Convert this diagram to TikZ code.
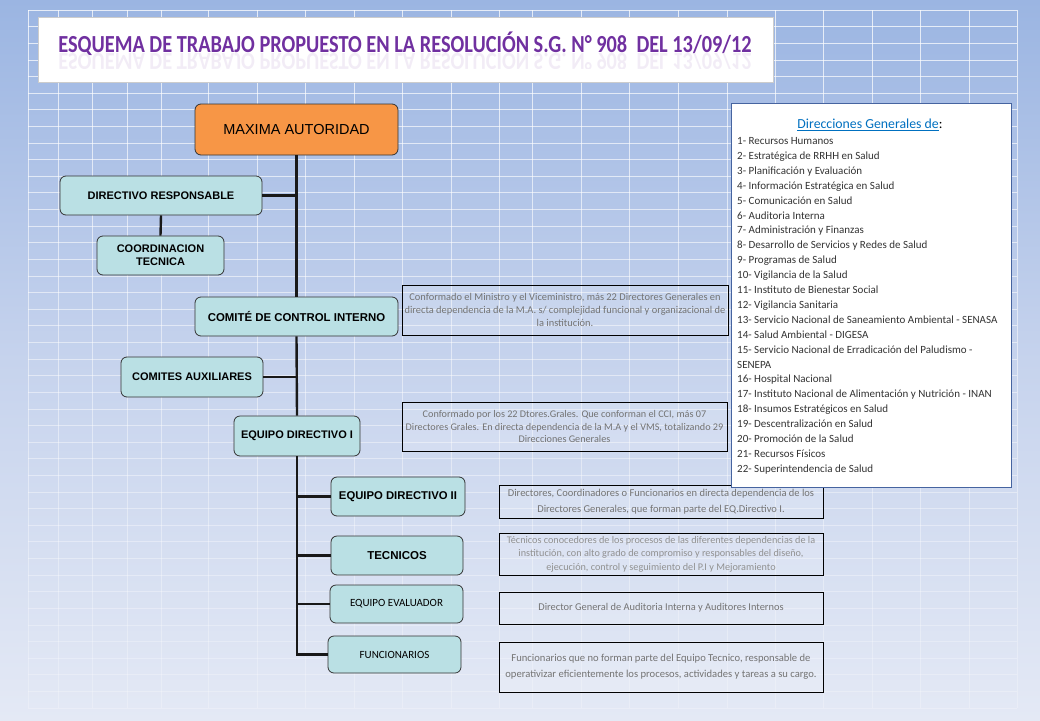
\documentclass[tikz,border=0pt]{standalone}
\usepackage{fontspec}
\setmainfont{Carlito}
\newfontfamily\arialf{Liberation Sans}
\usetikzlibrary{calc}
\definecolor{bgtop}{RGB}{155,181,226}
\definecolor{bgmid}{RGB}{198,211,237}
\definecolor{bgbot}{RGB}{228,233,245}
\definecolor{teal1}{RGB}{186,224,228}
\definecolor{orng}{RGB}{247,150,70}
\definecolor{ttl}{RGB}{112,48,160}
\definecolor{dgray}{RGB}{115,115,115}
\definecolor{lgray}{RGB}{145,145,145}
\definecolor{pblue}{RGB}{0,112,192}
\definecolor{pborder}{RGB}{70,100,160}
\newcommand\bx[7]{%
  \pgfmathsetmacro\bxw{#4-#2}\pgfmathsetmacro\bxh{#5-#3}%
  \node[#6,minimum width=\bxw pt,minimum height=\bxh pt] (#1) at ({(#2+#4)/2},{(#3+#5)/2}) {#7};}
\newcommand\ttltext{ESQUEMA DE TRABAJO PROPUESTO EN LA RESOLUCIÓN S.G. N°~908\ \ DEL 13/09/12}
\tikzset{
  gridl/.style={white,line width=0.7pt},
  orgbox/.style={draw=black!80,line width=0.8pt,rounded corners=6pt,fill=teal1,inner sep=0pt,align=center,
    font=\arialf\bfseries\fontsize{11}{13}\selectfont},
  mabox/.style={orgbox,fill=orng,font=\arialf\fontsize{14.5}{17}\selectfont},
  calbox/.style={orgbox,font=\fontsize{11}{13}\selectfont},
  descbox/.style={draw=black,line width=0.9pt,fill=white,fill opacity=0.15,text opacity=1,inner sep=0pt,
    align=center,text=dgray,font=\fontsize{10.4}{13.3}\selectfont},
  conn/.style={line width=2.4pt,black!90},
  listtxt/.style={anchor=base west,inner sep=0pt,text=black!80,font=\fontsize{11}{12}\selectfont},
  titletxt/.style={anchor=base,inner sep=0pt,text=ttl,xscale=0.83,font=\bfseries\fontsize{24.5}{26}\selectfont}
}
\begin{document}
\begin{tikzpicture}[x=1pt,y=-1pt]
\useasboundingbox (0,0) rectangle (1040,720);
\shade[top color=bgtop,bottom color=bgbot,middle color=bgmid] (0,0) rectangle (1040,720);
% grid
\foreach \gi in {0,...,41}{
  \pgfmathsetmacro\op{0.75-0.5*\gi/41}
  \foreach \gx in {28,58,92,127,161,208,257,305,354,402,451,499,532,581,629,678,727,775,823,872,920,969,1017}
    \draw[gridl,opacity=\op] (\gx,{10+\gi*16.62}) -- (\gx,{10+(\gi+1)*16.62});
  \draw[gridl,opacity=\op] (28,{10+\gi*16.62}) -- (1017,{10+\gi*16.62});
}
\draw[gridl,opacity=0.25] (28,708) -- (1017,708);
% title
\bx{tbox}{38}{17}{773}{82}{draw=black!20,fill=white,inner sep=0pt}{}
\begin{scope}
\clip (40,53) rectangle (771,68);
\node[titletxt,yscale=-1,opacity=0.09] (titlerefl) at (405,53.5) {\ttltext};
\end{scope}
\node[titletxt] (title) at (405,52) {\ttltext};
% org boxes
\bx{ma}{195}{104}{398}{155}{mabox}{MAXIMA AUTORIDAD}
\bx{dr}{60}{176}{262}{215}{orgbox}{DIRECTIVO RESPONSABLE}
\bx{ct}{97}{236}{224}{275}{orgbox}{COORDINACION\\TECNICA}
\bx{cci}{195}{297}{398}{336}{orgbox,font=\arialf\bfseries\fontsize{11.4}{13}\selectfont}{COMITÉ DE CONTROL INTERNO}
\bx{ca}{121}{357}{263}{397}{orgbox}{COMITES AUXILIARES}
\bx{edi}{234}{416}{360}{456}{orgbox}{EQUIPO DIRECTIVO I}
\bx{edii}{331}{477}{465}{516}{orgbox,font=\arialf\bfseries\fontsize{11.3}{13}\selectfont}{EQUIPO DIRECTIVO II}
\bx{tec}{331}{536}{463}{575}{orgbox,font=\arialf\bfseries\fontsize{11.5}{13}\selectfont}{TECNICOS}
\bx{ev}{330}{585}{463}{623}{calbox}{EQUIPO EVALUADOR}
\bx{fun}{328}{636}{461}{673}{calbox}{FUNCIONARIOS}
% connectors
\draw[conn] (ma.south) -- (cci.north);
\draw[conn] (dr.east) -- (dr.east -| ma.south);
\draw[conn] (dr.south) -- (ct.north);
\draw[conn] (cci.south) -- (edi.north);
\draw[conn] (ca.east) -- (ca.east -| cci.south);
\coordinate (bot) at (edi.south |- fun.west);
\draw[conn] (edi.south) -- (bot) -- (fun.west);
\draw[conn] (edii.west -| edi.south) -- (edii.west);
\draw[conn] (tec.west -| edi.south) -- (tec.west);
\draw[conn] (ev.west -| edi.south) -- (ev.west);
% description boxes
\bx{d1}{402}{285}{728}{335}{descbox}{Conformado el Ministro y el Viceministro, más 22 Directores Generales en\\directa dependencia de la M.A. s/ complejidad funcional y organizacional de\\la institución.}
\bx{d2}{402}{402}{727}{451}{descbox,font=\fontsize{10.2}{12.5}\selectfont}{Conformado por los 22 Dtores.Grales. Que conforman el CCI, más 07\\Directores Grales. En directa dependencia de la M.A y el VMS, totalizando 29\\Direcciones Generales}
\bx{d3}{499}{485}{823}{518}{descbox,font=\fontsize{10.5}{16}\selectfont}{Directores, Coordinadores o Funcionarios en directa dependencia de los\\Directores Generales, que forman parte del EQ.Directivo I.}
\bx{d4}{499}{533}{823}{575}{descbox,text=lgray,font=\fontsize{10.2}{13.5}\selectfont}{Técnicos conocedores de los procesos de las diferentes dependencias de la\\institución, con alto grado de compromiso y responsables del diseño,\\ejecución, control y seguimiento del P.I y Mejoramiento}
\bx{d5}{499}{592}{823}{624}{descbox}{Director General de Auditoria Interna y Auditores Internos}
\bx{d6}{499}{642}{823}{692}{descbox,font=\fontsize{10.6}{16}\selectfont}{Funcionarios que no forman parte del Equipo Tecnico, responsable de\\operativizar eficientemente los procesos, actividades y tareas a su cargo.}
% right panel
\bx{panel}{731}{103}{1011}{487}{draw=pborder,line width=0.8pt,fill=white,inner sep=0pt}{}
\node[inner sep=0pt,font=\fontsize{13.8}{15}\selectfont] (ptitle) at (870,125) {\textcolor{pblue}{\underline{Direcciones Generales de}}:};
\foreach \t [count=\i from 0] in {1- Recursos Humanos,2- Estratégica de RRHH en Salud,3- Planificación y Evaluación,4- Información Estratégica en Salud,5- Comunicación en Salud,6- Auditoria Interna,7- Administración y Finanzas,8- Desarrollo de Servicios y Redes de Salud,9- Programas de Salud,10- Vigilancia de la Salud,11- Instituto de Bienestar Social,12- Vigilancia Sanitaria,13- Servicio Nacional de Saneamiento Ambiental - SENASA,14- Salud Ambiental - DIGESA,15- Servicio Nacional de Erradicación del Paludismo -,SENEPA,16- Hospital Nacional,17- Instituto Nacional de Alimentación y Nutrición - INAN,18- Insumos Estratégicos en Salud,19- Descentralización en Salud,20- Promoción de la Salud,21- Recursos Físicos,22- Superintendencia de Salud}
  \node[listtxt] (li\i) at (737,{144.5+\i*14.9}) {\t};
\end{tikzpicture}
\end{document}
